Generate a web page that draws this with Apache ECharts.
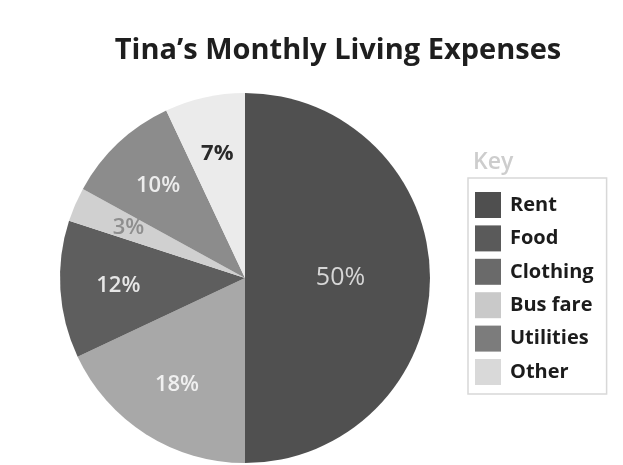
<!DOCTYPE html>
<html>
<head>
<meta charset="utf-8">
<title>Tina's Monthly Living Expenses</title>
<script src="https://cdn.jsdelivr.net/npm/echarts@6/dist/echarts.min.js"></script>
<style>
  html, body { margin: 0; padding: 0; background: #ffffff; }
  #chart { width: 623px; height: 465px; }
</style>
</head>
<body>
<div id="chart"></div>
<script>
// Expense categories and their share of the monthly budget (percent)
const categories = ['Rent', 'Food', 'Clothing', 'Bus fare', 'Utilities', 'Other'];
const shares = [50, 18, 12, 3, 10, 7];

// Slice fills, key swatches and label colours, one per category
const sliceColors = ['#505050', '#a8a8a8', '#5e5e5e', '#d0d0d0', '#8c8c8c', '#ebebeb'];
const keyColors = ['#4f4f4f', '#5a5a5a', '#6a6a6a', '#c9c9c9', '#7c7c7c', '#d9d9d9'];
const labelColors = ['#d6d6d6', '#f0f0f0', '#e6e6e6', '#8e8e8e', '#ececec', '#2a2a2a'];

const FONT = '"Open Sans", "DejaVu Sans", sans-serif';
const CENTER = [245, 278];
const R = 185;

const chart = echarts.init(document.getElementById('chart'), null, { renderer: 'canvas' });

const sliceData = categories.map((name, i) => ({
  name,
  value: shares[i],
  itemStyle: { color: sliceColors[i] },
  label: { show: i === 0, color: labelColors[i] }
}));

// Second ring, invisible, only used to place the smaller slices' labels further out
const labelData = categories.map((name, i) => ({
  name,
  value: shares[i],
  itemStyle: { color: 'rgba(0,0,0,0)' },
  label: {
    show: i !== 0,
    color: labelColors[i],
    fontWeight: i === 5 ? 'bold' : 600,
    fontSize: i === 5 ? 22 : 22
  }
}));

chart.setOption({
  backgroundColor: '#ffffff',
  animation: false,
  title: [
    {
      text: 'Tina\u2019s Monthly Living Expenses',
      left: 333,
      textAlign: 'center',
      top: 31,
      textStyle: { fontFamily: FONT, fontWeight: 'bold', fontSize: 29, color: '#1e1e1e' }
    },
    {
      text: 'Key',
      left: 468,
      top: 146,
      textStyle: { fontFamily: FONT, fontWeight: 600, fontSize: 23, color: '#cdcdcd' }
    }
  ],
  legend: {
    orient: 'vertical',
    left: 468,
    top: 178,
    padding: [14, 13, 9, 7],
    borderColor: '#d8d8d8',
    borderWidth: 1.5,
    icon: 'rect',
    itemWidth: 26,
    itemHeight: 26,
    itemGap: 7.4,
    selectedMode: false,
    data: categories.map((name, i) => ({ name, itemStyle: { color: keyColors[i] } })),
    textStyle: {
      fontFamily: FONT,
      fontWeight: 'bold',
      fontSize: 20,
      color: '#1c1c1c',
      padding: [0, 0, 0, 4]
    }
  },
  series: [
    {
      type: 'pie',
      center: CENTER,
      radius: [0, R],
      startAngle: 90,
      clockwise: true,
      silent: true,
      legendHoverLink: false,
      data: sliceData,
      label: {
        position: 'inside',
        formatter: '{c}%',
        fontFamily: FONT,
        fontSize: 25,
        fontWeight: 'normal'
      },
      labelLine: { show: false },
      itemStyle: { borderWidth: 0 }
    },
    {
      type: 'pie',
      center: CENTER,
      radius: [R * 0.34, R],
      startAngle: 90,
      clockwise: true,
      silent: true,
      legendHoverLink: false,
      data: labelData,
      label: {
        position: 'inside',
        formatter: '{c}%',
        fontFamily: FONT
      },
      labelLine: { show: false },
      itemStyle: { borderWidth: 0 }
    }
  ]
});
</script>
</body>
</html>
